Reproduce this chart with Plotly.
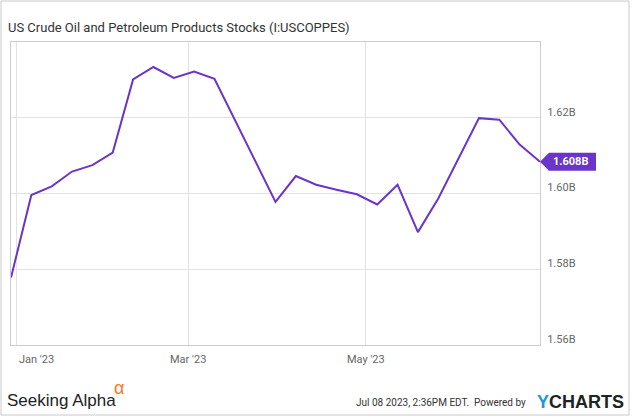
import plotly.graph_objects as go

# weekly stocks, billion barrels
dates = ["2022-12-30", "2023-01-06", "2023-01-13", "2023-01-20", "2023-01-27",
         "2023-02-03", "2023-02-10", "2023-02-17", "2023-02-24", "2023-03-03",
         "2023-03-10", "2023-03-17", "2023-03-24", "2023-03-31", "2023-04-07",
         "2023-04-14", "2023-04-21", "2023-04-28", "2023-05-05", "2023-05-12",
         "2023-05-19", "2023-05-26", "2023-06-02", "2023-06-09", "2023-06-16",
         "2023-06-23", "2023-06-30"]
stocks = [1.5778, 1.5996, 1.6019, 1.6058, 1.6075,
          1.6108, 1.6301, 1.6334, 1.6305, 1.6322,
          1.6303, 1.6195, 1.6087, 1.5978, 1.6046,
          1.6023, 1.6010, 1.5998, 1.5971, 1.6023,
          1.5898, 1.5987, 1.6093, 1.6199, 1.6195,
          1.6129, 1.6084]
x_ticks = ["2023-01-01", "2023-03-01", "2023-05-01"]
x_labels = ["Jan '23", "Mar '23", "May '23"]
y_ticks = [1.56, 1.58, 1.60, 1.62]
y_labels = ["1.56B", "1.58B", "1.60B", "1.62B"]

PURPLE = "#6a35c8"
W, H = 635, 417
L, R, T, B = 11, 95, 42, 72
PW, PH = W - L - R, H - T - B


def px(x):
    return (x - L) / PW


def py(y):
    return (H - B - y) / PH


fig = go.Figure()
fig.add_trace(go.Scatter(x=dates, y=stocks, mode="lines",
                         line=dict(color=PURPLE, width=2), hoverinfo="x+y"))

fig.update_layout(
    width=W, height=H, margin=dict(l=L, r=R, t=T, b=B),
    paper_bgcolor="white", plot_bgcolor="white", showlegend=False,
    font=dict(family="Roboto, sans-serif", color="#666"),
    title=dict(text="US Crude Oil and Petroleum Products Stocks (I:USCOPPES)",
               xref="container", yref="container", x=8 / W, y=1 - 27 / H,
               xanchor="left", yanchor="middle",
               font=dict(family="Roboto", size=13, color="#333")),
    xaxis=dict(range=["2022-12-30", "2023-06-30"], tickvals=x_ticks,
               showticklabels=False, showgrid=True, gridcolor="#e2e2e2",
               showline=True, linecolor="#cccccc", mirror=True, zeroline=False),
    yaxis=dict(range=[1.56, 1.64], tickvals=y_ticks, ticktext=y_labels, side="right",
               ticks="", ticklabelstandoff=4, ticklabelshift=-6,
               tickfont=dict(family="Roboto", size=11, color="#666"),
               showgrid=True, gridcolor="#e2e2e2", showline=True,
               linecolor="#cccccc", mirror=True, zeroline=False),
)

# x tick labels (first one sits right of its gridline, as in the original)
for i, (d, t) in enumerate(zip(x_ticks, x_labels)):
    fig.add_annotation(x=d, xref="x", y=0, yref="paper", yshift=-14,
                       text=t, showarrow=False, xanchor="center", yanchor="middle",
                       xshift=20 if i == 0 else 0,
                       font=dict(family="Roboto", size=11, color="#666"))

# last value tag
last = stocks[-1]
fig.add_shape(type="path", xref="paper", yref="y", xsizemode="pixel", ysizemode="pixel",
              xanchor=1, yanchor=last, path="M0,0 L9,9 L56,9 L56,-9 L9,-9 Z",
              fillcolor=PURPLE, line=dict(width=0))
fig.add_annotation(x=1, xref="paper", y=last, yref="y", xshift=30,
                   text="<b>%.3fB</b>" % last, showarrow=False,
                   xanchor="center", yanchor="middle",
                   font=dict(family="Roboto", size=11, color="white"))

# outer frame
fig.add_shape(type="rect", xref="paper", yref="paper",
              x0=px(1), x1=px(629), y0=py(415), y1=py(1),
              line=dict(color="#c8c8c8", width=1), fillcolor="rgba(0,0,0,0)")

# footer
fig.add_annotation(x=px(5), y=py(400), xref="paper", yref="paper", xanchor="left",
                   yanchor="middle", showarrow=False, text="Seeking Alpha",
                   font=dict(family="Liberation Sans", size=17, color="#222"))
fig.add_annotation(x=px(112), y=py(388), xref="paper", yref="paper", xanchor="left",
                   yanchor="middle", showarrow=False, text="\u03b1",
                   font=dict(family="Liberation Sans", size=18, color="#f47b20"))
fig.add_annotation(x=px(528), y=py(402), xref="paper", yref="paper", xanchor="right",
                   yanchor="middle", showarrow=False,
                   text="Jul 08 2023, 2:36PM EDT.  Powered by",
                   font=dict(family="Roboto", size=10, color="#333"))
fig.add_annotation(x=px(626), y=py(402), xref="paper", yref="paper", xanchor="right",
                   yanchor="middle", showarrow=False,
                   text="<span style='color:#1a9ad6'>Y</span>CHARTS",
                   font=dict(family="Liberation Sans", size=18, color="#222", weight="bold"))

fig.write_html("out.html", config={"displayModeBar": False},
               post_script="document.body.style.margin='0';")
